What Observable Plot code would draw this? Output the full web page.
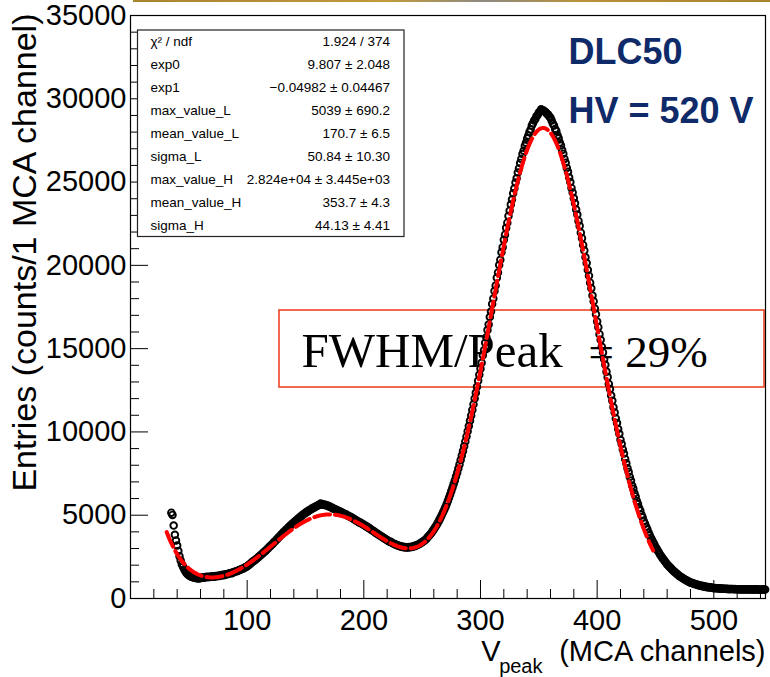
<!DOCTYPE html>
<html>
<head>
<meta charset="utf-8">
<script src="https://cdn.jsdelivr.net/npm/d3@7"></script>
<script src="https://cdn.jsdelivr.net/npm/@observablehq/plot@0.6"></script>
<style>
  body { margin: 0; background: #fff; }
  #chart { position: relative; width: 770px; height: 677px; }
  #topbar { position: absolute; left: 133px; top: 0; width: 637px; height: 2px;
            background: linear-gradient(90deg, #a8842e, #c09a3c 40%, #8c8a80 55%, #b8923a 70%, #a8842e); }
</style>
</head>
<body>
<div id="chart"><div id="topbar"></div></div>
<script>
// Pulse-height spectrum: entries per MCA channel, one value per channel starting at firstChannel
const firstChannel = 35;
const counts = [
  5150, 5020, 4380, 3820, 3480, 3180,
  2850, 2540, 2280, 2060, 1900, 1760, 1640, 1530, 1450, 1400,
  1350, 1310, 1290, 1260, 1250, 1230, 1210, 1220, 1200, 1230,
  1250, 1270, 1240, 1280, 1300, 1270, 1310, 1290, 1320, 1300,
  1340, 1310, 1350, 1330, 1370, 1350, 1390, 1380, 1420, 1400,
  1440, 1460, 1450, 1490, 1510, 1530, 1520, 1570, 1590, 1620,
  1640, 1670, 1690, 1730, 1760, 1790, 1820, 1860, 1890, 1930,
  1990, 2040, 2100, 2170, 2230, 2270, 2330, 2380, 2450, 2500,
  2570, 2620, 2700, 2740, 2830, 2870, 2960, 3010, 3100, 3150,
  3240, 3290, 3390, 3440, 3530, 3590, 3680, 3730, 3830, 3880,
  3970, 4020, 4110, 4160, 4250, 4300, 4380, 4430, 4510, 4560,
  4640, 4680, 4760, 4800, 4880, 4920, 5000, 5030, 5110, 5140,
  5210, 5230, 5300, 5320, 5390, 5410, 5470, 5480, 5540, 5550,
  5610, 5630, 5700, 5650, 5660, 5620, 5630, 5590, 5580, 5530,
  5520, 5460, 5450, 5390, 5380, 5330, 5320, 5260, 5250, 5200,
  5180, 5130, 5110, 5060, 5040, 4980, 4960, 4910, 4890, 4830,
  4810, 4740, 4720, 4650, 4630, 4570, 4560, 4500, 4480, 4420,
  4390, 4330, 4300, 4240, 4210, 4140, 4110, 4050, 4020, 3950,
  3920, 3860, 3830, 3760, 3730, 3670, 3640, 3580, 3550, 3490,
  3470, 3410, 3400, 3340, 3320, 3270, 3260, 3210, 3200, 3150,
  3150, 3110, 3120, 3080, 3090, 3060, 3080, 3060, 3090, 3080,
  3110, 3110, 3150, 3150, 3200, 3210, 3260, 3280, 3340, 3370,
  3430, 3480, 3540, 3610, 3700, 3780, 3860, 3950, 4050, 4150,
  4260, 4370, 4490, 4620, 4750, 4890, 5040, 5190, 5340, 5500,
  5680, 5860, 6050, 6250, 6450, 6660, 6870, 7090, 7320, 7550,
  7800, 8050, 8310, 8580, 8850, 9140, 9430, 9730, 10040, 10350,
  10670, 10990, 11320, 11660, 12000, 12350, 12710, 13070, 13430, 13800,
  14150, 14600, 14900, 15350, 15680, 16120, 16450, 16900, 17230, 17680,
  18010, 18460, 18790, 19250, 19570, 20020, 20330, 20780, 21090, 21530,
  21840, 22250, 22560, 22970, 23280, 23660, 23950, 24330, 24610, 24970,
  25230, 25580, 25820, 26150, 26380, 26680, 26880, 27170, 27360, 27620,
  27790, 28010, 28160, 28390, 28530, 28700, 28780, 28950, 29020, 29170,
  29240, 29370, 29310, 29300, 29230, 29190, 29090, 29050, 28930, 28860,
  28700, 28510, 28390, 28190, 28070, 27810, 27630, 27370, 27190, 26930,
  26700, 26390, 26160, 25850, 25620, 25270, 25000, 24650, 24380, 24030,
  23730, 23350, 23050, 22670, 22370, 21960, 21630, 21220, 20890, 20480,
  20140, 19720, 19380, 18960, 18620, 18190, 17840, 17410, 17060, 16630,
  16290, 15870, 15530, 15110, 14770, 14360, 14030, 13620, 13290, 12880,
  12570, 12180, 11870, 11480, 11170, 10810, 10530, 10170, 9890, 9530,
  9280, 8950, 8700, 8370, 8120, 7820, 7600, 7300, 7080, 6780,
  6590, 6320, 6130, 5860, 5670, 5430, 5270, 5030, 4870, 4640,
  4490, 4300, 4150, 3960, 3810, 3650, 3530, 3370, 3250, 3090,
  2990, 2860, 2760, 2630, 2530, 2420, 2340, 2230, 2150, 2040,
  1980, 1890, 1840, 1740, 1690, 1610, 1570, 1490, 1450, 1370,
  1340, 1270, 1250, 1180, 1150, 1090, 1080, 1020, 1010, 950,
  950, 900, 900, 850, 850, 810, 810, 770, 780, 740,
  750, 710, 720, 680, 690, 660, 670, 640, 650, 620,
  630, 610, 620, 600, 610, 590, 600, 580, 590, 580,
  570, 580, 560, 575, 565, 570, 555, 565, 550, 560,
  555, 545, 560, 540, 555, 545, 550, 540, 555, 545,
  540, 550, 535, 545, 540, 550, 535, 545, 540, 530, 545, 535, 540, 545
];

// Fit: exp(exp0 + exp1*x) + gaus(max_value_L, mean_value_L, sigma_L) + gaus(max_value_H, mean_value_H, sigma_H)
const statNames  = ["χ² / ndf", "exp0", "exp1", "max_value_L", "mean_value_L", "sigma_L", "max_value_H", "mean_value_H", "sigma_H"];
const statValues = ["1.924 / 374", "9.807 ± 2.048", "−0.04982 ± 0.04467", "5039 ± 690.2", "170.7 ± 6.5",
                    "50.84 ± 10.30", "2.824e+04 ± 3.445e+03", "353.7 ± 4.3", "44.13 ± 4.41"];
const exp0 = 9.807, exp1 = -0.04982;
const maxL = 5039, meanL = 170.7, sigmaL = 50.84;
const maxH = 28240, meanH = 353.7, sigmaH = 44.13;
const fitRange = [31, 448];

// Axis ticks
const xMajorTicks = [100, 200, 300, 400, 500];
const yMajorTicks = [0, 5000, 10000, 15000, 20000, 25000, 30000, 35000];

const titleLines = ["DLC50", "HV = 520 V"];
const resolutionLabel = ["FWHM/Peak", "= 29%"];
const yTitle = "Entries (counts/1 MCA channel)";

// ---- layout ----
const W = 770, H = 677;
const mL = 130, mR = 5, mT = 15, mB = 79;
const xDomain = [0, 544.3], yDomain = [0, 35000];
const xPerPx = (xDomain[1] - xDomain[0]) / (W - mL - mR);
const yPerPx = (yDomain[1] - yDomain[0]) / (H - mT - mB);
const xAt = px => xDomain[0] + (px - mL) * xPerPx;   // page px -> channel
const yAt = py => yDomain[0] + (H - mB - py) * yPerPx; // page px -> entries

const spectrum = counts.map((n, i) => ({channel: firstChannel + i, entries: n}));
const fitFn = x => Math.exp(exp0 + exp1 * x)
  + maxL * Math.exp(-0.5 * ((x - meanL) / sigmaL) ** 2)
  + maxH * Math.exp(-0.5 * ((x - meanH) / sigmaH) ** 2);
const fitCurve = d3.range(fitRange[0], fitRange[1] + 0.01, 0.5).map(x => ({channel: x, entries: fitFn(x)}));

const xMinorTicks = d3.range(20, 544, 20).filter(v => v % 100 !== 0);
const yMinorTicks = d3.range(1000, 35000, 1000).filter(v => v % 5000 !== 0);
const majLen = 18, minLen = 9;

const navy = "#0f2a68";
const sans = "Liberation Sans, Arial, Helvetica, sans-serif";
const serif = "Liberation Serif, Times New Roman, serif";

const statRows = statNames.map((name, i) => ({name, value: statValues[i], row: i}));
const rowY = i => yAt(41.5 + 22.9 * i);

const chart = Plot.plot({
  width: W, height: H,
  marginLeft: mL, marginRight: mR, marginTop: mT, marginBottom: mB,
  x: {domain: xDomain},
  y: {domain: yDomain},
  style: {fontFamily: sans, background: "white", overflow: "visible", color: "black"},
  marks: [
    // resolution annotation (drawn beneath the data)
    Plot.rect([0], {x1: xAt(279), x2: xAt(764), y1: yAt(310), y2: yAt(387), fill: "none", stroke: "#ee4422", strokeWidth: 1.6}),
    Plot.text([resolutionLabel[0]], {x: xAt(301), y: yAt(366.5), text: d => d, textAnchor: "start", lineAnchor: "bottom",
      fontSize: 49, fontFamily: serif, fill: "black"}),
    Plot.text([resolutionLabel[1]], {x: xAt(588), y: yAt(366.5), text: d => d, textAnchor: "start", lineAnchor: "bottom",
      fontSize: 45, fontFamily: serif, fill: "black"}),

    // ticks (inside the frame)
    Plot.ruleX(xMinorTicks, {y1: 0, y2: minLen * yPerPx, stroke: "black", strokeWidth: 1}),
    Plot.ruleX(xMajorTicks, {y1: 0, y2: majLen * yPerPx, stroke: "black", strokeWidth: 1}),
    Plot.ruleY(yMinorTicks, {x1: 0, x2: minLen * xPerPx, stroke: "black", strokeWidth: 1}),
    Plot.ruleY(yMajorTicks, {x1: 0, x2: majLen * xPerPx, stroke: "black", strokeWidth: 1}),

    // data points and fit
    Plot.dot(spectrum, {x: "channel", y: "entries", r: 3.3, stroke: "black", strokeWidth: 1.9, fill: "none"}),
    Plot.line(fitCurve, {x: "channel", y: "entries", stroke: "#ff0000", strokeWidth: 4, strokeDasharray: "16,5"}),

    // axes
    Plot.axisX(xMajorTicks, {tickSize: 0, tickPadding: 11, fontSize: 29, label: null, tickFormat: d => String(d)}),
    Plot.axisY(yMajorTicks, {tickSize: 0, tickPadding: 4, fontSize: 29, label: null, tickFormat: d => String(d)}),
    Plot.frame({stroke: "black", strokeWidth: 1.2}),

    // axis titles
    Plot.text([yTitle], {frameAnchor: "top-left", text: d => d, rotate: -90, textAnchor: "end", lineAnchor: "bottom",
      dx: 35 - mL, dy: 13 - mT, fontSize: 34}),
    Plot.text(["(MCA channels)"], {frameAnchor: "bottom-right", text: d => d, textAnchor: "end", lineAnchor: "bottom",
      dy: 660 - (H - mB), fontSize: 29}),
    Plot.text(["peak"], {frameAnchor: "bottom-right", text: d => d, textAnchor: "end", lineAnchor: "bottom",
      dx: 542 - (W - mR), dy: 672 - (H - mB), fontSize: 20}),
    Plot.text(["V"], {frameAnchor: "bottom-right", text: d => d, textAnchor: "end", lineAnchor: "bottom",
      dx: 500 - (W - mR), dy: 660 - (H - mB), fontSize: 29}),

    // stats box
    Plot.rect([0], {x1: xAt(137.5), x2: xAt(404), y1: yAt(30), y2: yAt(236.5), fill: "white", stroke: "#222", strokeWidth: 1.2}),
    Plot.text(statRows, {x: xAt(150), y: d => rowY(d.row), text: "name", textAnchor: "start", lineAnchor: "middle", fontSize: 13.5}),
    Plot.text(statRows, {x: xAt(389.5), y: d => rowY(d.row), text: "value", textAnchor: "end", lineAnchor: "middle", fontSize: 13.5}),

    // run label
    Plot.text(titleLines, {x: xAt(568), y: (d, i) => yAt(i === 0 ? 63 : 122), text: d => d, textAnchor: "start",
      lineAnchor: "bottom", fontSize: 36, fontWeight: "bold", fill: navy})
  ]
});

document.getElementById("chart").appendChild(chart);
</script>
</body>
</html>
